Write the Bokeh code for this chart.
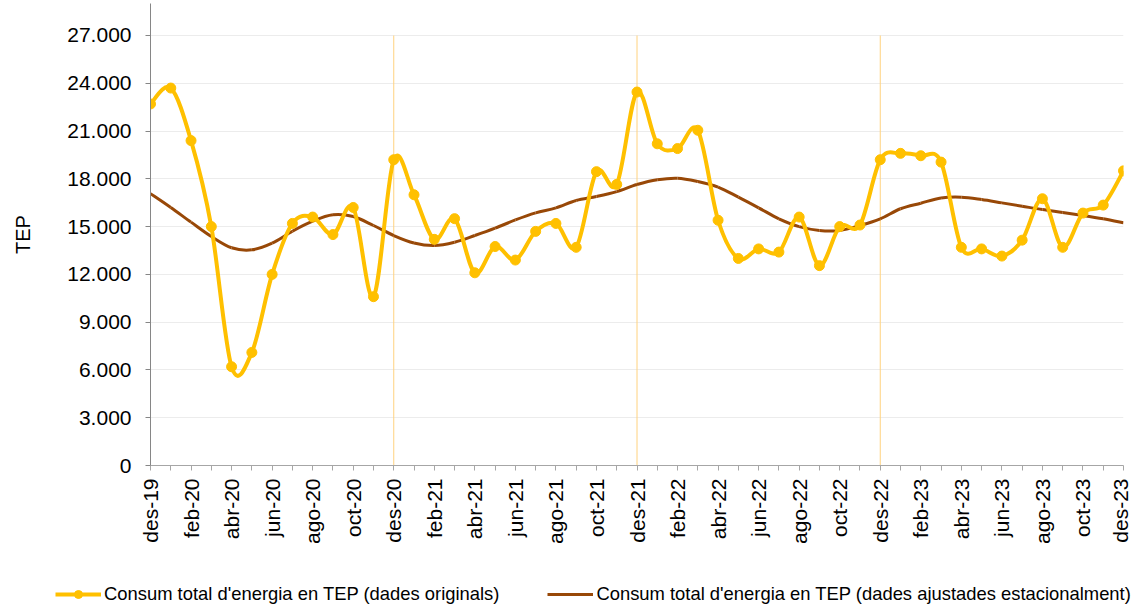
import math
from bokeh.plotting import figure
from bokeh.layouts import column
from bokeh.models import FixedTicker, Legend, LegendItem, Range1d
from bokeh.embed import file_html
from bokeh.resources import INLINE

months = ["des-19", "gen-20", "feb-20", "mar-20", "abr-20", "mai-20", "jun-20", "jul-20", "ago-20", "set-20", "oct-20", "nov-20",
          "des-20", "gen-21", "feb-21", "mar-21", "abr-21", "mai-21", "jun-21", "jul-21", "ago-21", "set-21", "oct-21", "nov-21",
          "des-21", "gen-22", "feb-22", "mar-22", "abr-22", "mai-22", "jun-22", "jul-22", "ago-22", "set-22", "oct-22", "nov-22",
          "des-22", "gen-23", "feb-23", "mar-23", "abr-23", "mai-23", "jun-23", "jul-23", "ago-23", "set-23", "oct-23", "nov-23",
          "des-23"]

original = [22700, 23700, 20400, 15000, 6200, 7100, 12000, 15200, 15600, 14500, 16200, 10600,
            19200, 17000, 14200, 15500, 12100, 13750, 12900, 14700, 15200, 13700, 18450, 17650,
            23450, 20200, 19900, 21050, 15400, 13000, 13600, 13400, 15600, 12550, 15000, 15100,
            19200, 19600, 19450, 19050, 13700, 13600, 13150, 14150, 16750, 13700, 15850, 16350,
            18500]

adjusted = [17070, 16200, 15280, 14380, 13670, 13540, 13960, 14710, 15340, 15740, 15630, 15070,
            14440, 13970, 13810, 14020, 14440, 14900, 15420, 15860, 16180, 16640, 16890, 17200,
            17640, 17940, 18040, 17830, 17480, 16850, 16180, 15490, 15000, 14760, 14760, 15070,
            15490, 16120, 16470, 16800, 16850, 16700, 16490, 16280, 16070, 15890, 15700, 15490,
            15240]

y_ticks = [0, 3000, 6000, 9000, 12000, 15000, 18000, 21000, 24000, 27000]
y_tick_labels = ["0", "3.000", "6.000", "9.000", "12.000", "15.000", "18.000", "21.000", "24.000", "27.000"]

separators = ["des-20", "des-21", "des-22"]

label_orig = "Consum total d'energia en TEP (dades originals)"
label_adj = "Consum total d'energia en TEP (dades ajustades estacionalment)"

YELLOW = "#FFC000"
BROWN = "#984807"
FONT = "Liberation Sans"
W = 1131

xs = list(range(len(months)))


def smooth_segments(xv, yv):
    n = len(xv)
    d = dict(x0=[], y0=[], x1=[], y1=[], cx0=[], cy0=[], cx1=[], cy1=[])
    for i in range(n - 1):
        a = max(i - 1, 0)
        b = min(i + 2, n - 1)
        d["x0"].append(xv[i]); d["y0"].append(yv[i])
        d["x1"].append(xv[i + 1]); d["y1"].append(yv[i + 1])
        d["cx0"].append(xv[i] + (xv[i + 1] - xv[a]) / 6.0)
        d["cy0"].append(yv[i] + (yv[i + 1] - yv[a]) / 6.0)
        d["cx1"].append(xv[i + 1] - (xv[b] - xv[i]) / 6.0)
        d["cy1"].append(yv[i + 1] - (yv[b] - yv[i]) / 6.0)
    return d


p = figure(width=W, height=550, output_backend="svg", toolbar_location=None,
           x_range=Range1d(0, len(months) - 1), y_range=Range1d(0, 29009),
           min_border_left=150, min_border_right=8, min_border_top=3, min_border_bottom=85)
p.outline_line_color = None
p.background_fill_color = "white"
p.frame_align = False

# grid
p.xgrid.visible = False
p.ygrid.ticker = FixedTicker(ticks=y_ticks)
p.ygrid.grid_line_color = "#ECECEC"
p.ygrid.grid_line_width = 1

# separators
sep_x = [months.index(s) for s in separators]
p.segment(x0=sep_x, y0=[0] * len(sep_x), x1=sep_x, y1=[y_ticks[-1]] * len(sep_x),
          line_color="#FFD27F", line_width=1)

# adjusted series
p.bezier(source=smooth_segments(xs, adjusted), x0="x0", y0="y0", x1="x1", y1="y1",
         cx0="cx0", cy0="cy0", cx1="cx1", cy1="cy1", line_color=BROWN, line_width=3)

# original series
p.bezier(source=smooth_segments(xs, original), x0="x0", y0="y0", x1="x1", y1="y1",
         cx0="cx0", cy0="cy0", cx1="cx1", cy1="cy1", line_color=YELLOW, line_width=4)
p.scatter(xs, original, size=10, marker="circle", fill_color=YELLOW, line_color=YELLOW)

# axes
yax = p.yaxis[0]
yax.ticker = FixedTicker(ticks=y_ticks)
yax.major_label_overrides = {t: l for t, l in zip(y_ticks, y_tick_labels)}
yax.axis_line_color = "#868686"
yax.major_tick_line_color = "#868686"
yax.major_tick_out = 5
yax.major_tick_in = 0
yax.minor_tick_line_color = None
yax.major_label_text_font = FONT
yax.major_label_text_font_size = "21px"
yax.major_label_text_color = "black"
yax.major_label_standoff = 14
yax.axis_label = "TEP"
yax.axis_label_text_font = FONT
yax.axis_label_text_font_size = "20px"
yax.axis_label_text_font_style = "normal"
yax.axis_label_text_color = "black"
yax.axis_label_standoff = 30

xax = p.xaxis[0]
xax.ticker = FixedTicker(ticks=xs)
xax.major_label_overrides = {i: (m if i % 2 == 0 else "") for i, m in enumerate(months)}
xax.major_label_orientation = math.pi / 2
xax.axis_line_color = "#A6A6A6"
xax.major_tick_line_color = "#A6A6A6"
xax.major_tick_out = 5
xax.major_tick_in = 0
xax.minor_tick_line_color = None
xax.major_label_text_font = FONT
xax.major_label_text_font_size = "21px"
xax.major_label_text_color = "black"
xax.major_label_standoff = 8

# legend strip (its own figure so the legend is not clipped by the chart frame)
lg = figure(width=W, height=56, output_backend="svg", toolbar_location=None,
            x_range=Range1d(0, 1), y_range=Range1d(0, 1),
            x_axis_location=None, y_axis_location=None,
            min_border_left=0, min_border_right=0, min_border_top=0, min_border_bottom=0)
lg.outline_line_color = None
lg.xgrid.visible = False
lg.ygrid.visible = False
lg.frame_align = False
k_line1 = lg.line(xs, original, line_color=YELLOW, line_width=4, visible=False)
k_pts1 = lg.scatter(xs, original, size=9, marker="circle", fill_color=YELLOW, line_color=YELLOW, visible=False)
k_line2 = lg.line(xs, adjusted, line_color=BROWN, line_width=3, visible=False)

legend = Legend(items=[LegendItem(label=label_orig, renderers=[k_line1, k_pts1]),
                       LegendItem(label=label_adj, renderers=[k_line2])],
                orientation="horizontal", location=(55, 1),
                border_line_color=None, background_fill_alpha=0,
                label_text_font=FONT, label_text_font_size="18.4px", label_text_color="black",
                glyph_width=46, glyph_height=20, label_height=20, label_standoff=3,
                spacing=48, padding=0, margin=0)
lg.add_layout(legend)

layout = column(p, lg, spacing=0)
open("out.html", "w").write(file_html(layout, INLINE))
